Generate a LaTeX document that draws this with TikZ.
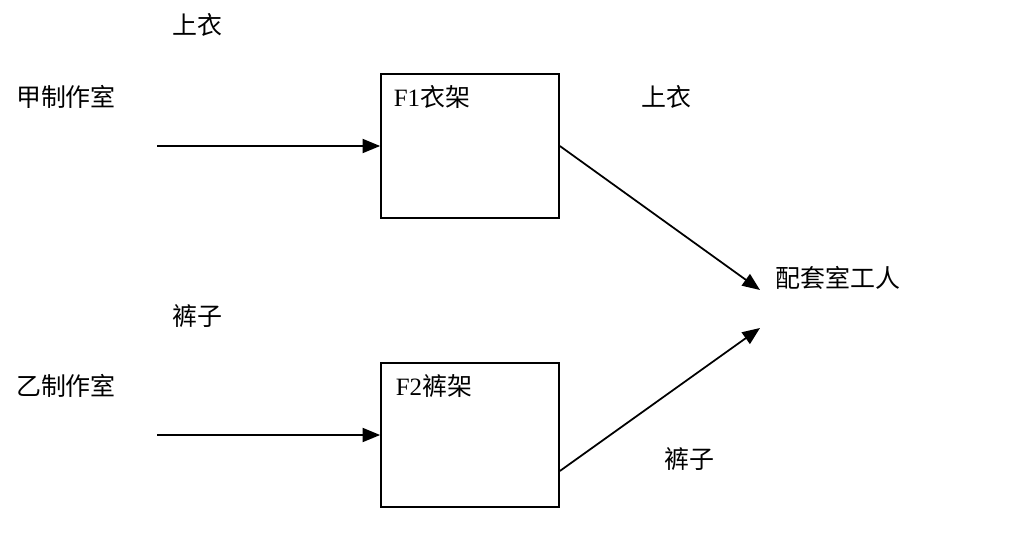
\documentclass[tikz,border=0pt]{standalone}
\usepackage{fontspec}
\setmainfont{Noto Sans CJK SC}
\newfontfamily\latinrm{Liberation Serif}
\usetikzlibrary{positioning, arrows.meta}

\begin{document}
\begin{tikzpicture}[x=0.02cm, y=-0.02cm,
    rack/.style={draw, line width=1pt, minimum width=3.56cm, minimum height=2.88cm, inner sep=0pt},
    txt/.style={font=\fontsize{14.2}{17}\selectfont, inner sep=0pt},
    flow/.style={line width=1pt, -{Triangle[length=10pt, width=8pt]}}]
        \useasboundingbox (0,0) rectangle (1029,545);
        % Racks
        \node[rack] (f1) at (470,146) {};
        \node[rack] (f2) at (470,435) {};
        \node[txt] (f1txt) at (432,97) {{\latinrm F1}衣架};
        \node[txt] (f2txt) at (434,386) {{\latinrm F2}裤架};
        % Studios and goods
        \node[txt] (coatA) at (197,25) {上衣};
        \node[txt] (studioA) at (66,97) {甲制作室};
        \node[txt] (pantsA) at (197,316) {裤子};
        \node[txt] (studioB) at (66,386) {乙制作室};
        % Matching room
        \node[txt] (coatB) at (666,97) {上衣};
        \node[txt] (worker) at (838,278) {配套室工人};
        \node[txt] (pantsB) at (689,459) {裤子};
        % Free ends
        \coordinate (inA) at (157,146);
        \coordinate (inB) at (157,435);
        \coordinate (endA) at (760,290);
        \coordinate (endB) at (760,328);
        % Flows
        \draw[flow] (inA) -- (f1.west);
        \draw[flow] (inB) -- (f2.west);
        \draw[flow] (f1.east) -- (endA);
        \draw[flow] ([yshift=-0.72cm]f2.east) -- (endB);
      \end{tikzpicture}
\end{document}
